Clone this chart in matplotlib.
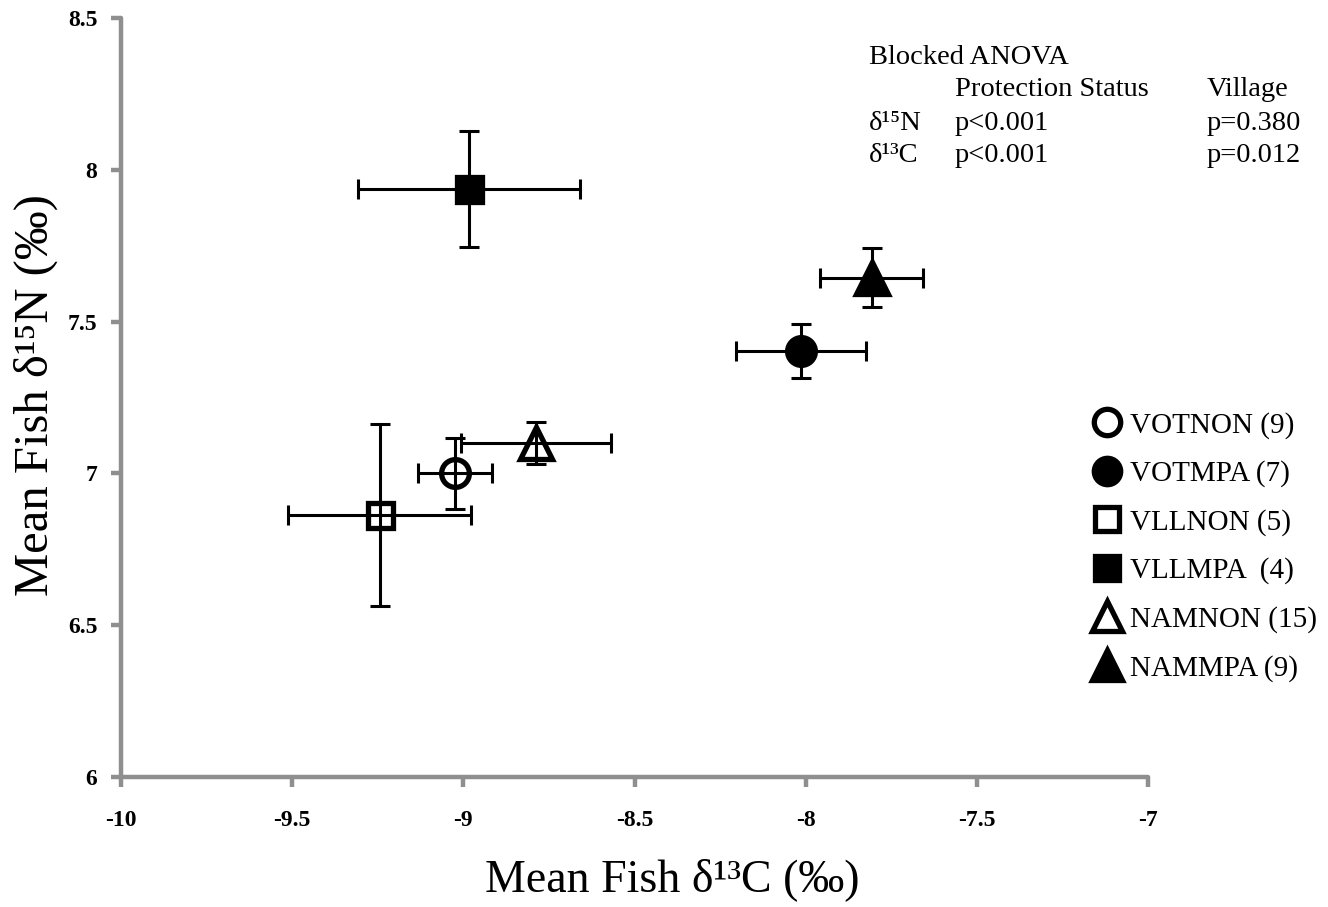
import matplotlib
matplotlib.use("Agg")
import matplotlib.pyplot as plt

plt.rcParams['font.family'] = ['Liberation Serif', 'DejaVu Serif']
plt.rcParams['axes.unicode_minus'] = False

# ---- data ----
groups = ['VOTNON', 'VOTMPA', 'VLLNON', 'VLLMPA', 'NAMNON', 'NAMMPA']
legend_labels = ['VOTNON (9)', 'VOTMPA (7)', 'VLLNON (5)', 'VLLMPA  (4)', 'NAMNON (15)', 'NAMMPA (9)']
d13C = [-9.025, -8.014, -9.244, -8.984, -8.788, -7.807]
d15N = [7.001, 7.403, 6.863, 7.937, 7.100, 7.644]
xerr = [0.108, 0.190, 0.267, 0.325, 0.220, 0.150]
yerr = [0.117, 0.090, 0.300, 0.190, 0.070, 0.097]
markers = ['o', 'o', 's', 's', '^', '^']
filled = [False, True, False, True, False, True]

xticks = [-10, -9.5, -9, -8.5, -8, -7.5, -7]
xtick_labels = ['-10', '-9.5', '-9', '-8.5', '-8', '-7.5', '-7']
yticks = [6, 6.5, 7, 7.5, 8, 8.5]
ytick_labels = ['6', '6.5', '7', '7.5', '8', '8.5']

anova_title = 'Blocked ANOVA'
anova_rows = [['', 'Protection Status', 'Village'],
              ['δ¹⁵N', 'p<0.001', 'p=0.380'],
              ['δ¹³C', 'p<0.001', 'p=0.012']]

# ---- figure ----
W, H = 1328, 907
fig = plt.figure(figsize=(W / 100, H / 100), dpi=100)
ax = fig.add_axes([121 / W, 1 - 777 / H, (1148 - 121) / W, (777 - 18) / H])

grey = '#8f8f8f'
handles = []
for i in range(len(groups)):
    ms = {'o': 20, 's': 18, '^': 23}[markers[i]]
    h, = ax.plot(d13C[i], d15N[i], linestyle='none', marker=markers[i], markersize=ms,
                 markerfacecolor='black' if filled[i] else 'white',
                 markeredgecolor='black', markeredgewidth=3.8, zorder=2,
                 label=legend_labels[i])
    handles.append(h)
    ax.errorbar(d13C[i], d15N[i], xerr=xerr[i], yerr=yerr[i], fmt='none',
                ecolor='black', elinewidth=2.2, capsize=7, capthick=2.2, zorder=3)

ax.set_xlim(-10, -7)
ax.set_ylim(6, 8.5)
ax.set_xticks(xticks)
ax.set_xticklabels(xtick_labels)
ax.set_yticks(yticks)
ax.set_yticklabels(ytick_labels)

for s in ['top', 'right']:
    ax.spines[s].set_visible(False)
for s in ['left', 'bottom']:
    ax.spines[s].set_color(grey)
    ax.spines[s].set_linewidth(3.2)
    ax.spines[s].set_capstyle('round')
ax.tick_params(axis='both', colors=grey, width=3.2, length=7, direction='out')
ax.tick_params(axis='x', pad=17)
ax.tick_params(axis='y', pad=10)
for lab in ax.get_xticklabels() + ax.get_yticklabels():
    lab.set_color('black')
    lab.set_fontweight('bold')
    lab.set_fontsize(17)

ax.set_xlabel('Mean Fish δ¹³C (‰)', fontsize=33)
ax.xaxis.set_label_coords((672 - 121) / 1027, -(858 - 777) / 759)
ax.set_ylabel('Mean Fish δ¹⁵N (‰)', fontsize=35)
ax.yaxis.set_label_coords(-(121 - 58) / 1027, (777 - 395) / 759)

# ANOVA table
fs = 20.5
fig.text(869 / W, 1 - 57 / H, anova_title, fontsize=fs, va='center', ha='left')
col_x = [869, 955, 1207]
row_y = [90, 123, 156]
for r, row in enumerate(anova_rows):
    for c, txt in enumerate(row):
        if txt:
            fig.text(col_x[c] / W, 1 - row_y[r] / H, txt, fontsize=fs, va='center', ha='left')

leg = ax.legend(handles=handles, loc='upper left', bbox_to_anchor=(1094 / W, 1 - 412 / H),
                bbox_transform=fig.transFigure, frameon=False, fontsize=21,
                handlelength=0.9, handletextpad=0.35, labelspacing=0.74,
                borderpad=0, borderaxespad=0, markerscale=0.95)

fig.savefig('out.png', dpi=100)
